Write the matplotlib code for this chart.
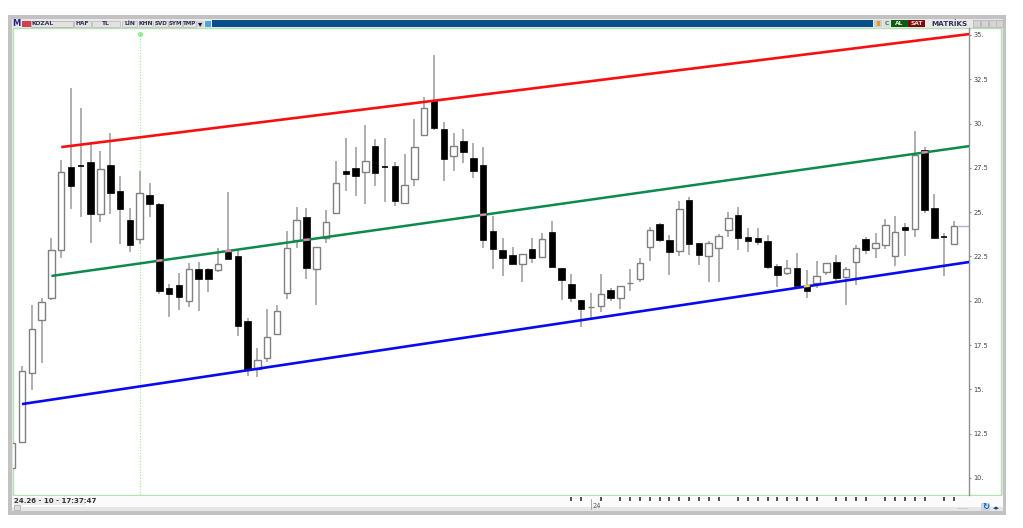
import numpy as np
import matplotlib
matplotlib.use("Agg")
import matplotlib.pyplot as plt
from matplotlib.patches import Rectangle

# candles, index -1 is the one cut by the left edge
opens = [10.56, 12.03, 15.92, 18.91, 20.15, 22.86, 27.55, 27.60, 27.83, 24.89, 27.66, 26.19, 24.55, 23.48, 25.97, 25.46,
         20.72, 20.89, 19.98, 21.79, 21.79, 21.73, 22.75, 22.52, 18.86, 16.15, 16.77, 18.12, 20.44, 23.43, 24.72, 21.79,
         23.54, 24.95, 27.32, 27.49, 27.26, 28.73, 27.52, 27.60, 25.52, 26.87, 29.35, 31.27, 29.69, 28.17, 29.01, 28.05,
         27.66, 23.93, 22.86, 22.58, 22.07, 22.92, 22.47, 23.88, 21.85, 20.94, 20.04, 19.62, 19.70, 20.61, 20.15, 21.00,
         21.23, 23.03, 24.33, 23.43, 22.81, 25.68, 23.26, 22.52, 22.98, 23.99, 24.84, 23.60, 23.54, 23.37, 21.96, 21.56,
         21.85, 20.89, 21.00, 21.62, 22.19, 21.34, 22.19, 23.48, 22.98, 23.15, 22.52, 24.16, 24.05, 28.51, 25.23, 23.60, 23.20]
highs = [11.99, 16.32, 19.76, 20.15, 23.54, 27.94, 32.00, 30.87, 28.96, 28.45, 29.46, 27.04, 25.23, 27.32, 26.64, 25.52,
         20.94, 21.56, 22.13, 22.19, 21.85, 22.98, 26.13, 22.86, 19.03, 17.33, 19.53, 19.76, 23.93, 25.29, 25.23, 23.03,
         25.12, 27.88, 29.18, 28.67, 29.92, 29.13, 29.18, 27.83, 28.28, 30.25, 31.50, 33.87, 30.09, 29.46, 29.69, 28.90,
         28.67, 24.78, 23.54, 23.03, 22.64, 23.54, 23.82, 24.50, 21.85, 21.51, 20.04, 20.44, 21.51, 20.72, 20.83, 21.79,
         22.41, 24.16, 24.39, 23.71, 25.63, 25.85, 23.26, 23.37, 23.77, 25.01, 25.29, 24.10, 24.10, 23.71, 22.07, 22.30,
         22.69, 21.73, 22.24, 22.13, 22.58, 21.90, 23.15, 23.60, 23.82, 24.61, 24.78, 24.39, 29.58, 28.67, 26.02, 23.82, 24.50]
lows = [10.56, 12.03, 14.96, 16.49, 20.04, 22.41, 25.18, 24.72, 23.26, 24.44, 24.89, 23.20, 22.75, 23.20, 24.72, 20.38,
        19.08, 19.48, 19.65, 19.42, 20.49, 21.62, 22.35, 18.01, 15.75, 15.70, 16.54, 18.12, 20.10, 22.98, 21.23, 19.76,
        23.26, 24.95, 26.19, 25.91, 25.46, 26.47, 25.57, 25.35, 25.46, 26.47, 29.35, 29.63, 26.76, 27.32, 27.77, 26.93,
        22.98, 21.79, 21.40, 22.07, 21.06, 22.13, 22.47, 21.90, 20.04, 19.93, 18.52, 19.03, 19.36, 19.98, 19.53, 20.55,
        21.06, 22.24, 23.31, 21.45, 22.52, 22.58, 22.02, 21.06, 21.06, 23.60, 22.86, 22.75, 23.15, 21.79, 20.77, 21.45,
        20.83, 20.15, 20.72, 21.45, 21.06, 19.76, 20.89, 22.64, 22.41, 22.92, 21.96, 22.52, 23.60, 24.95, 23.54, 21.40, 23.20]
closes = [11.99, 16.03, 18.40, 19.93, 22.86, 27.26, 26.47, 27.57, 24.89, 27.43, 26.08, 25.18, 23.15, 26.08, 25.46, 20.55,
          20.38, 20.21, 21.79, 21.23, 21.23, 22.07, 22.35, 18.57, 16.09, 16.66, 17.95, 19.42, 22.98, 24.55, 21.85, 23.03,
          24.44, 26.64, 27.15, 27.04, 27.88, 27.21, 27.43, 25.63, 26.53, 28.67, 30.87, 29.75, 28.00, 28.73, 28.39, 27.32,
          23.43, 22.92, 22.41, 22.07, 22.64, 22.41, 23.48, 21.90, 21.17, 20.15, 19.53, 19.65, 20.38, 20.15, 20.83, 21.03,
          22.13, 23.99, 23.43, 22.75, 25.18, 23.20, 22.58, 23.26, 23.65, 24.67, 23.54, 23.37, 23.31, 21.90, 21.45, 21.85,
          20.83, 20.55, 21.40, 22.13, 21.28, 21.79, 22.98, 22.86, 23.26, 24.27, 23.88, 23.99, 28.22, 25.12, 23.54, 23.54, 24.22]
first_index = -1

# trend lines: index and price at both ends
red_x, red_y = [4, 96.6], [28.67, 35.05]
green_x, green_y = [3, 96.6], [21.40, 28.73]
blue_x, blue_y = [0, 96.6], [14.17, 22.19]

pink_hits = [(14, green_x, green_y), (21, green_x, green_y), (29, green_x, green_y),
             (47, green_x, green_y), (92, green_x, green_y)]
yellow_hits = [(80, blue_x, blue_y)]

price_ticks = [10, 12.5, 15, 17.5, 20, 22.5, 25, 27.5, 30, 32.5, 35]
price_labels = ['10.', '12.5', '15.', '17.5', '20.', '22.5', '25.', '27.5', '30.', '32.5', '35.']
date_ticks = [56, 57, 59, 61, 62, 63, 64, 65, 66, 67, 68, 69, 70, 71, 73, 74, 75, 76, 77, 78, 79, 80, 81,
              83, 84, 85, 86, 88, 89, 90, 91, 92, 94, 95]
marker_index = 12

W, H = 1023, 528
fig = plt.figure(figsize=(W / 100, H / 100), dpi=100, facecolor='white')

# window frame, in pixels
bg = fig.add_axes([0, 0, 1, 1])
bg.set_xlim(0, W)
bg.set_ylim(H, 0)
bg.axis('off')


def box(x0, y0, x1, y1, fc, ec='none', lw=0.7, z=1):
    bg.add_patch(Rectangle((x0, y0), x1 - x0, y1 - y0, fc=fc, ec=ec, lw=lw, zorder=z))


def label(x, y, s, size=4.3, color='#333355', weight='bold', ha='center'):
    bg.text(x, y, s, fontsize=size, color=color, fontweight=weight, ha=ha, va='center', zorder=4)


box(8, 15, 1006, 515, '#c2c2c2', z=0)
box(12, 19, 1003, 511, '#e9e9e9', z=0)
box(13, 28, 1001, 495, 'white', ec='#b5e2b5', lw=1.0, z=1)
box(12, 495.7, 1003, 507, '#fbfbfb', z=1)
box(12, 507, 1003, 511, '#e6e6e6', z=1)

# title bar
box(212, 20, 873, 27, '#07508a', z=2)
label(16, 23.5, 'M', size=6, color='#222288')
box(22, 20.5, 31, 26.5, '#d04050', z=2)
box(31, 20.5, 72.5, 26.5, '#e2e2e2', ec='#bbbbbb', z=2)
label(32, 23.5, 'KOZAL', ha='left')
buttons = [(74, 91, 'HAF'), (92, 120, 'TL'), (122, 137, 'LİN'), (139, 153, 'KHN'),
           (154.5, 168, 'SVD'), (169, 181.5, 'SYM'), (182.5, 196, 'TMP')]
for x0, x1, s in buttons:
    box(x0, 20.5, x1, 26.5, '#e2e2e2', ec='#c4c4c4', z=2)
    label((x0 + x1) / 2, 23.5, s, size=4.0 if x0 > 150 else 4.3)
box(197, 20.5, 203.5, 26.5, '#d8d8d8', z=2)
label(200.3, 23.5, '▾', size=6, color='#111144')
box(204.5, 20.5, 211, 26.5, '#4ea6dc', z=2)

box(874, 20, 882, 27, '#cccccc', z=2)
box(877, 21, 880, 26, '#e89a20', z=3)
box(883, 20, 890, 27, '#dddddd', z=2)
label(886.5, 23.5, 'C', color='#228866')
box(891, 20, 908, 27, '#0e5c12', z=2)
label(899.5, 23.5, 'AL', color='#dff0df')
box(908, 20, 925, 27, '#7c0a0a', z=2)
label(916.5, 23.5, 'SAT', color='#f0dcdc')
label(949, 23.5, 'MATRİKS', size=5.2)
for x0 in (973, 981, 989, 996):
    box(x0, 20, x0 + 6.5, 27, '#d4d4d4', ec='#bbbbbb', z=2)

# status bar
box(13, 498, 85, 504.5, '#eeeeee', z=2)
label(14, 501, '24.26 - 10 - 17:37:47', size=5, color='#333333', ha='left')
box(14, 505, 20, 510, '#dddddd', ec='#bbbbbb', z=2)
box(958, 507.5, 968, 509, '#cccccc', z=2)
box(981, 503, 990, 511, '#c9d6e6', z=2)
label(985.5, 507, '↻', size=6, color='#1a55aa')
label(996, 508, '◂▸', size=5, color='#224488')

# chart
left, right, top, bottom = 13, 969, 28, 495
ax = fig.add_axes([left / W, 1 - bottom / H, (right - left) / W, (bottom - top) / H])
ax.patch.set_alpha(0)
ax.set_xlim(-0.917, 96.53)
ax.set_ylim(9.04, 35.39)

wick_col = '#9a9a9a'
body_w = 0.66
for n in range(len(opens)):
    i = first_index + n
    o, h, l, c = opens[n], highs[n], lows[n], closes[n]
    ax.vlines(i, l, h, color=wick_col, lw=1.1, zorder=2)
    lo, hi = min(o, c), max(o, c)
    if c >= o:
        ax.add_patch(Rectangle((i - body_w / 2, lo), body_w, hi - lo, fc='white', ec='#808080', lw=1.0, zorder=3))
    elif hi - lo < 0.1:
        ax.hlines(o, i - body_w / 2, i + body_w / 2, color='black', lw=1.2, zorder=3)
    else:
        ax.add_patch(Rectangle((i - body_w / 2, lo), body_w, hi - lo, fc='black', ec='black', lw=0.5, zorder=3))

ax.vlines(marker_index, 9.04, 34.8, color='#90ee90', lw=0.8, linestyles=(0, (1, 1.5)), zorder=1)
ax.plot([marker_index], [35.05], 'o', ms=2.6, color='#8df08d', zorder=1)

ax.plot(red_x, red_y, color='#fa0f0f', lw=1.9, zorder=4, solid_capstyle='butt')
ax.plot(green_x, green_y, color='#0c8a4c', lw=1.8, zorder=4, solid_capstyle='butt')
ax.plot(blue_x, blue_y, color='#0a0af0', lw=1.9, zorder=4, solid_capstyle='butt')

for i, lx, ly in pink_hits:
    v = np.interp(i, lx, ly)
    ax.plot([i - 0.3, i + 0.3], [v, v + 0.02], color='#ee82b4', lw=1.6, zorder=5, solid_capstyle='butt')
for i, lx, ly in yellow_hits:
    v = np.interp(i, lx, ly)
    ax.plot([i - 0.3, i + 0.3], [v, v + 0.03], color='#f0e020', lw=1.6, zorder=5, solid_capstyle='butt')

# last price stub
ax.hlines(closes[-1], 95.4, 96.53, color='#b0b0dc', lw=1.0, zorder=2)

for s in ('top', 'left', 'bottom'):
    ax.spines[s].set_visible(False)
ax.spines['right'].set_color('#909090')
ax.spines['right'].set_linewidth(1.0)
ax.yaxis.tick_right()
ax.set_yticks(price_ticks)
ax.set_yticklabels(price_labels)
ax.tick_params(axis='y', length=1.5, width=0.8, color='#909090', labelsize=4.8, labelcolor='#444444', pad=1.5)
ax.set_xticks([])

# date ticks sit in the status bar, below the plot
tick_y = [-0.0075] * len(date_ticks)
ax.plot(date_ticks, tick_y, linestyle='none', marker='|', ms=3, mew=1.1, color='#222222',
        transform=ax.get_xaxis_transform(), clip_on=False, zorder=6)
ax.plot([58, 58], [-0.03, -0.008], color='#aaaaaa', lw=0.7, transform=ax.get_xaxis_transform(), clip_on=False)
ax.text(58.2, -0.0235, '24', fontsize=4.8, color='#555555', ha='left', va='center',
        transform=ax.get_xaxis_transform())

fig.savefig('out.png', dpi=100)
